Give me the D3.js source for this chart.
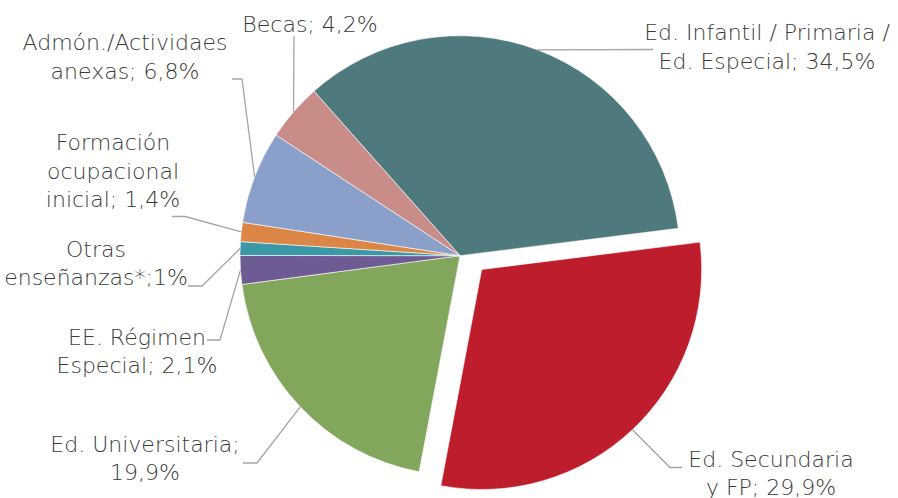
<!DOCTYPE html>
<html>
<head>
<meta charset="utf-8">
<script src="https://cdn.jsdelivr.net/npm/d3@7"></script>
<style>
  html, body { margin: 0; padding: 0; background: #ffffff; }
  svg { display: block; }
  text { font-family: "DejaVu Sans ExtraLight", "DejaVu Sans", sans-serif; font-weight: 200; fill: #3a3a3a; }
</style>
</head>
<body>
<script>
// ---- data ----
const categories = [
  "Ed. Infantil / Primaria / Ed. Especial",
  "Ed. Secundaria y FP",
  "Ed. Universitaria",
  "EE. Régimen Especial",
  "Otras enseñanzas*",
  "Formación ocupacional inicial",
  "Admón./Actividaes anexas",
  "Becas"
];
const values = [34.5, 29.9, 19.9, 2.1, 1, 1.4, 6.8, 4.2];
const labelLines = [
  ["Ed. Infantil / Primaria /", "Ed. Especial; 34,5%"],
  ["Ed. Secundaria", "y FP; 29,9%"],
  ["Ed. Universitaria;", "19,9%"],
  ["EE. Régimen", "Especial; 2,1%"],
  ["Otras", "enseñanzas*;1%"],
  ["Formación", "ocupacional", "inicial; 1,4%"],
  ["Admón./Actividaes", "anexas; 6,8%"],
  ["Becas; 4,2%"]
];
const colors = ["#4e797d", "#be1d2c", "#82a65b", "#6e5b93", "#3a98a7", "#db8646", "#8aa0ca", "#c88c89"];
const exploded = [false, true, false, false, false, false, false, false];

// ---- layout (styles/positions) ----
const W = 898, H = 498;
const cx = 460, cy = 255.7, R = 220;
const startDeg = -41.6;
const explodeOffset = [21.7, 13.8];
const fontSize = 22, lineH = 28.5;
// label anchor: center x, first baseline y
const labelPos = [
  [767, 40], [771, 466.5], [145, 451.5], [137, 344.5],
  [96, 256.5], [113, 150], [125, 50], [310, 31.5]
];
// leader line points after the arc point
const leaderPts = [
  [[653, 49.5]],
  [[670, 467.5], [682, 467.5]],
  [[257, 463], [243, 463]],
  [[220, 340], [207, 340]],
  [[202, 286], [188, 286]],
  [[185, 216.5], [172, 216.5]],
  [[242, 79], [232, 79]],
  [[294, 36]]
];

const svg = d3.select("body").append("svg").attr("width", W).attr("height", H);
const g = svg.append("g").attr("transform", `translate(${cx},${cy})`);

const a0 = startDeg * Math.PI / 180;
const pie = d3.pie().sort(null).value(d => d).startAngle(a0).endAngle(a0 + 2 * Math.PI);
const arcs = pie(values);
const arc = d3.arc().innerRadius(0).outerRadius(R);
const edge = d3.arc().innerRadius(R).outerRadius(R);

g.selectAll("path.slice").data(arcs).join("path")
  .attr("class", "slice")
  .attr("d", arc)
  .attr("fill", (d, i) => colors[i])
  .attr("stroke", "#ffffff")
  .attr("stroke-width", 0.6)
  .attr("transform", (d, i) => exploded[i] ? `translate(${explodeOffset[0]},${explodeOffset[1]})` : null);

// leader lines
const line = d3.line();
svg.selectAll("path.leader").data(arcs).join("path")
  .attr("class", "leader")
  .attr("fill", "none")
  .attr("stroke", "#a5a5a5")
  .attr("stroke-width", 1.3)
  .attr("d", (d, i) => {
    const c = edge.centroid(d);
    const off = exploded[i] ? explodeOffset : [0, 0];
    const p0 = [cx + c[0] + off[0], cy + c[1] + off[1]];
    return line([p0, ...leaderPts[i]]);
  });

// labels
const lbl = svg.selectAll("text.lbl").data(arcs).join("text")
  .attr("class", "lbl")
  .attr("text-anchor", "middle")
  .attr("font-size", fontSize)
  .attr("x", (d, i) => labelPos[i][0])
  .attr("y", (d, i) => labelPos[i][1]);
lbl.each(function (d, i) {
  d3.select(this).selectAll("tspan").data(labelLines[i]).join("tspan")
    .attr("x", labelPos[i][0])
    .attr("dy", (t, j) => j === 0 ? 0 : lineH)
    .text(t => t);
});
</script>
</body>
</html>
